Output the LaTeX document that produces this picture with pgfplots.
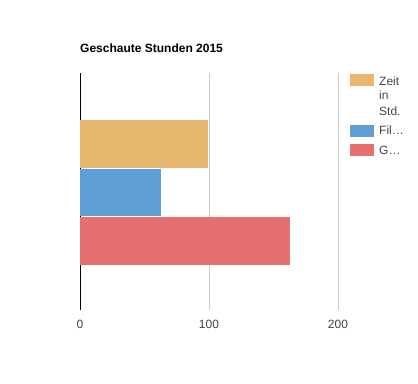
\documentclass[border=0pt]{standalone}
\usepackage{pgfplots}
\pgfplotsset{compat=1.18}
\usepackage{fontspec}
\setmainfont{Liberation Sans}
\definecolor{corange}{RGB}{230,184,111}
\definecolor{cblue}{RGB}{95,158,212}
\definecolor{cred}{RGB}{230,112,112}
\definecolor{cgrid}{RGB}{204,204,204}
\definecolor{ctext}{RGB}{68,68,68}
\begin{document}
\begin{tikzpicture}[x=1bp,y=1bp]
\useasboundingbox (0,0) rectangle (418,384);
\begin{axis}[
  at={(80bp,74bp)}, anchor=south west,
  scale only axis, width=258bp, height=237bp,
  xbar, bar width=47.5bp,
  xmin=0, xmax=200, ymin=-1, ymax=1,
  axis x line*=bottom, axis y line*=left,
  x axis line style={draw=none},
  y axis line style={black, line width=1bp, -},
  xtick={0,100,200}, ytick=\empty,
  xmajorgrids, grid style={cgrid, line width=1bp},
  major tick length=0pt,
  /pgf/number format/assume math mode=true,
  xticklabel style={font=\fontsize{12bp}{14bp}\selectfont, text=ctext, yshift=-6.5bp},
]
\addplot[fill=corange, draw=none, bar shift=47.6bp] coordinates {(99,0)};
\addplot[fill=cblue, draw=none, bar shift=-1bp] coordinates {(63,0)};
\addplot[fill=cred, draw=none, bar shift=-49.5bp] coordinates {(163,0)};
\end{axis}
\node[anchor=base west, inner sep=0pt, font=\fontsize{12bp}{14bp}\selectfont\bfseries] at (80,332) {Geschaute Stunden 2015};
\fill[corange] (350,298) rectangle (374,310);
\fill[cblue] (350,247) rectangle (374,259);
\fill[cred] (350,228) rectangle (374,240);
\begin{scope}[every node/.style={anchor=base west, inner sep=0pt, text=ctext, font=\fontsize{12bp}{14bp}\selectfont}]
\node at (379,299) {Zeit};
\node at (379,284.5) {in};
\node at (379,269) {Std.};
\node at (379,250) {Fil…};
\node at (379,230) {G…};
\end{scope}
\end{tikzpicture}
\end{document}
